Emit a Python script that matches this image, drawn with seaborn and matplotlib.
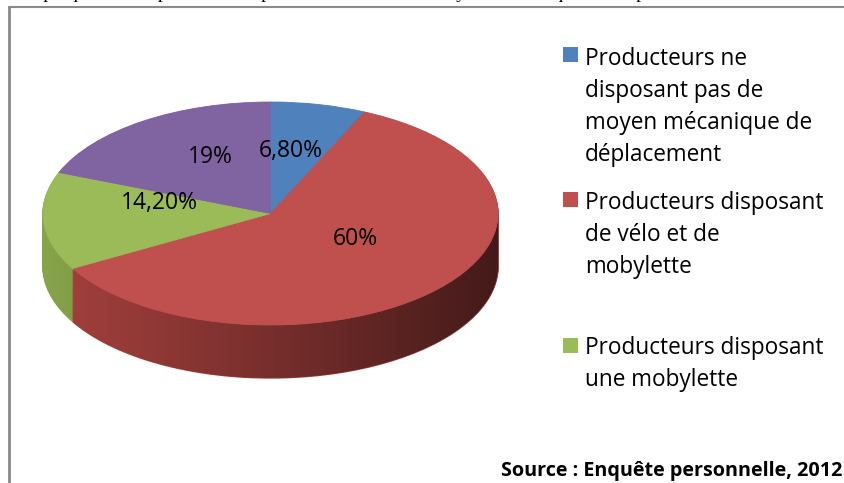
import numpy as np
import seaborn as sns
import matplotlib
matplotlib.use('Agg')
import matplotlib.pyplot as plt
from matplotlib.path import Path
from matplotlib.patches import PathPatch, Rectangle
from matplotlib.lines import Line2D

# data
categories = ["Producteurs ne disposant pas de moyen mécanique de déplacement",
              "Producteurs disposant de vélo et de mobylette",
              "Producteurs disposant une mobylette",
              "Producteurs disposant de vélo"]
values = [6.8, 60, 14.2, 19]
value_labels = ["6,80%", "60%", "14,20%", "19%"]
legend_labels = ["Producteurs ne\ndisposant pas de\nmoyen mécanique de\ndéplacement",
                 "Producteurs disposant\nde vélo et de\nmobylette",
                 "Producteurs disposant\nune mobylette"]
title = "Graphique 14 : Importance des producteurs selon les moyens mécaniques de déplacement"
source = "Source : Enquête personnelle, 2012"

top_colors = sns.color_palette(["#4F81BD", "#C0504D", "#9BBB59", "#8064A2"])
side_colors = sns.color_palette(["#3C6596", "#A4403D", "#86A34A", "#654E83"])

sns.set_theme(style="white")
plt.rcParams['font.family'] = ['Open Sans', 'DejaVu Sans']

W, H = 844, 483
fig = plt.figure(figsize=(W / 100, H / 100), dpi=100)
fig.patch.set_facecolor("white")


def fx(px):
    return px / W


def fy(py):
    return 1 - py / H


# frame of the original document
fig.add_artist(Line2D([fx(8.5), fx(8.5)], [fy(7), 0], color="#8a8a8a", lw=2, transform=fig.transFigure))
fig.add_artist(Line2D([fx(8.5), 1], [fy(7), fy(7)], color="#8a8a8a", lw=1.5, transform=fig.transFigure))

# cropped title line at the very top (only the descenders show)
fig.text(fx(14), fy(-2.5), title, family=["Liberation Serif"], fontsize=14,
         va="baseline", ha="left", color="black")

# pie geometry (pixels of the picture)
x0, x1 = 43, 498
top, bottom = 102, 378
depth_px = 53
b_px = (bottom - top - depth_px) / 2
d = depth_px / b_px

ax = fig.add_axes([fx(x0), fy(bottom), fx(x1 - x0), (bottom - top) / H])
ax.set_axis_off()

# side of the cylinder: stacked pies
n_layers = 54
for k in range(n_layers, 0, -1):
    off = d * k / n_layers
    wedges, _ = ax.pie(values, colors=side_colors, startangle=90, counterclock=False,
                       center=(0, -off), radius=1, frame=False,
                       wedgeprops=dict(linewidth=1.0))
    for w in wedges:
        w.set_edgecolor(w.get_facecolor())

# shading of the front band, darker to the right
t = np.linspace(np.pi, 2 * np.pi, 200)
band_x = np.concatenate([np.cos(t), np.cos(t[::-1])])
band_y = np.concatenate([np.sin(t), np.sin(t[::-1]) - d])
band = PathPatch(Path(np.column_stack([band_x, band_y])), facecolor="none", edgecolor="none",
                 transform=ax.transData)
ax.add_patch(band)
grad = np.zeros((1, 256, 4))
grad[0, :, 3] = np.linspace(0.0, 0.62, 256) ** 1.1
img = ax.imshow(grad, extent=(-1, 1, -1 - d, 1), aspect="auto", zorder=3, interpolation="bilinear")
img.set_clip_path(band)

# top face
wedges, _ = ax.pie(values, colors=top_colors, startangle=90, counterclock=False,
                   center=(0, 0), radius=1, frame=False, wedgeprops=dict(linewidth=0.6))
for w in wedges:
    w.set_edgecolor(w.get_facecolor())
    w.set_zorder(4)

ax.set_xlim(-1, 1)
ax.set_ylim(-1 - d, 1)
ax.set_aspect("auto")

# value labels
label_pos = [(291, 151), (355, 239), (159, 203), (210, 157)]
for lab, (px, py) in zip(value_labels, label_pos):
    fig.text(fx(px), fy(py), lab, fontsize=16.5, ha="center", va="center", color="black")

# legend (only the three entries visible in the picture)
line_step = 33
legend_baselines = [62, 207, 353]
for lab, col, base in zip(legend_labels, top_colors, legend_baselines):
    fig.add_artist(Rectangle((fx(563), fy(base)), fx(15), 15 / H, transform=fig.transFigure,
                             facecolor=col, edgecolor="none"))
    last = base + line_step * lab.count("\n")
    fig.text(fx(585), fy(last), lab, fontsize=16.3, ha="left", va="baseline",
             linespacing=1.45, color="black")

fig.text(fx(842), fy(476), source, fontsize=14.2, fontweight="bold", ha="right",
         va="baseline", color="black")

fig.savefig("out.png", dpi=100, facecolor="white")
